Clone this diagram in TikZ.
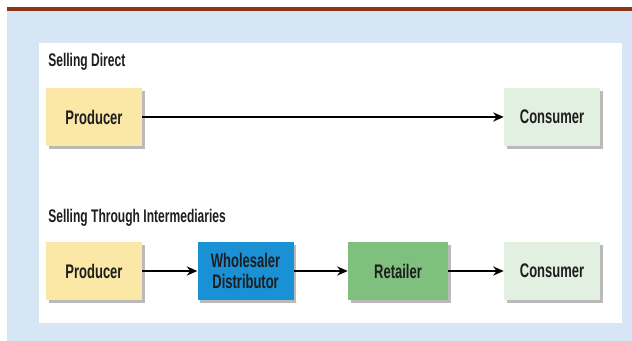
\documentclass[tikz,border=0pt]{standalone}
\usepackage{fontspec}
\setmainfont{Liberation Sans}[FakeStretch=0.66]
\usepackage{xcolor}
\usetikzlibrary{arrows.meta,shadows}

\definecolor{hintergrund}{HTML}{D6E6F5}
\definecolor{linie}{HTML}{8E3514}
\definecolor{gelb}{HTML}{FBE7A6}
\definecolor{hellgruen}{HTML}{E2F0E2}
\definecolor{blau}{HTML}{1A90D5}
\definecolor{gruen}{HTML}{80C07E}
\definecolor{schrift}{HTML}{1E1E1E}

\tikzset{
	stufe/.style={minimum width=2.4cm, minimum height=1.45cm, inner sep=0pt,
		align=center, font=\bfseries\fontsize{14}{14.5}\selectfont, text=schrift,
		drop shadow={shadow xshift=0.07cm, shadow yshift=-0.07cm, fill=black!45, opacity=0.6}},
	titel/.style={anchor=west, inner sep=0pt, font=\bfseries\fontsize{13}{14}\selectfont, text=schrift},
	pfeil/.style={line width=1.4pt, -{Stealth[length=7.5pt,width=6.5pt]}}
}

\begin{document}
\begin{tikzpicture}
	\useasboundingbox (0,0) rectangle (15.8,8.525);
	% hintergrund und obere linie
	\fill[white] (0,0) rectangle (15.8,8.525);
	\fill[hintergrund] (0.175,0) rectangle (15.8,8.275);
	\fill[linie] (0.175,8.25) rectangle (15.8,8.35);
	\fill[white] (0.975,0.45) rectangle (15.55,7.45);
	% direkter verkauf
	\node[titel] (direkt) at (1.2,6.975) {Selling Direct};
	\node[stufe, fill=gelb] (produzent) at (2.35,5.6) {Producer};
	\node[stufe, fill=hellgruen] (konsument) at (13.8,5.6) {Consumer};
	\draw[pfeil] (produzent) -- (konsument);
	% verkauf ueber zwischenhaendler
	\node[titel] (zwischen) at (1.2,3.075) {Selling Through Intermediaries};
	\node[stufe, fill=gelb] (produzent2) at (2.35,1.75) {Producer};
	\node[stufe, fill=blau] (grosshaendler) at (6.14,1.75) {Wholesaler\\Distributor};
	\node[stufe, fill=gruen, minimum width=2.5cm] (haendler) at (9.95,1.75) {Retailer};
	\node[stufe, fill=hellgruen] (konsument2) at (13.8,1.75) {Consumer};
	\draw[pfeil] (produzent2) -- (grosshaendler);
	\draw[pfeil] (grosshaendler) -- (haendler);
	\draw[pfeil] (haendler) -- (konsument2);
\end{tikzpicture}
\end{document}
